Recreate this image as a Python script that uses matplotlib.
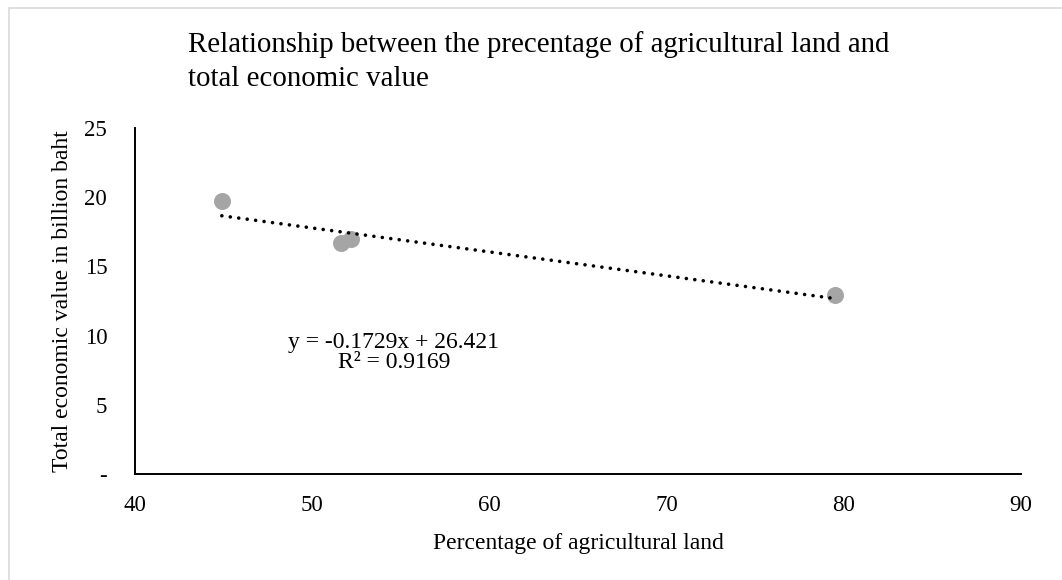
import matplotlib
matplotlib.use("Agg")
import matplotlib.pyplot as plt
from matplotlib.patches import Rectangle
import numpy as np

plt.rcParams["font.family"] = ["Liberation Serif", "DejaVu Serif"]

# Observations: share of agricultural land (%) vs total economic value (billion baht)
agri_land_pct = [44.9, 51.6, 52.2, 79.5]
econ_value = [19.7, 16.7, 17.0, 12.9]

# Linear trendline coefficients and goodness of fit
slope = -0.1729
intercept = 26.421
r_squared = 0.9169

x_ticks = [40, 50, 60, 70, 80, 90]
y_ticks = [0, 5, 10, 15, 20, 25]
y_tick_labels = ["-", "5", "10", "15", "20", "25"]

title = "Relationship between the precentage of agricultural land and\ntotal economic value"
x_label = "Percentage of agricultural land"
y_label = "Total economic value in billion baht"

W, H = 1062, 580
fig = plt.figure(figsize=(W / 100, H / 100), dpi=100)
fig.patch.set_facecolor("white")

# Light frame around the chart area
fig.patches.append(Rectangle((9 / W, -0.05), 1.2, 1 - 8 / H + 0.05,
                             transform=fig.transFigure, fill=False,
                             edgecolor="#d9d9d9", linewidth=1.2))

ax = fig.add_axes([135 / W, 1 - 474 / H, (1021 - 135) / W, (474 - 128) / H])
ax.set_xlim(x_ticks[0], x_ticks[-1])
ax.set_ylim(y_ticks[0], y_ticks[-1])

ax.scatter(agri_land_pct, econ_value, s=150, color="#a5a5a5", zorder=2,
           linewidths=0)

xs = np.array([min(agri_land_pct), max(agri_land_pct)])
ax.plot(xs, slope * xs + intercept, color="black", linewidth=2.6,
        linestyle=(0, (0.01, 2.35)), dash_capstyle="round", zorder=3)

eq = f"y = {slope:.4f}x + {intercept:.3f}\nR² = {r_squared:.4f}"
ax.text(54.6, 8.75, eq, ha="center", va="center", fontsize=17,
        linespacing=0.95, color="black")

for s in ["top", "right"]:
    ax.spines[s].set_visible(False)
for s in ["left", "bottom"]:
    ax.spines[s].set_linewidth(1.4)
    ax.spines[s].set_color("black")

ax.set_xticks(x_ticks)
ax.set_yticks(y_ticks)
ax.set_yticklabels(y_tick_labels)
ax.tick_params(axis="x", length=0, pad=15, labelsize=16.5)
ax.tick_params(axis="y", length=0, pad=20, labelsize=16.5)

ax.set_xlabel(x_label, fontsize=17, labelpad=12)
ax.set_ylabel(y_label, fontsize=17, labelpad=8)

fig.text(188 / W, 1 - 31 / H, title, ha="left", va="top", fontsize=20.8,
         linespacing=1.42)

fig.savefig("out.png", dpi=100, facecolor="white")
